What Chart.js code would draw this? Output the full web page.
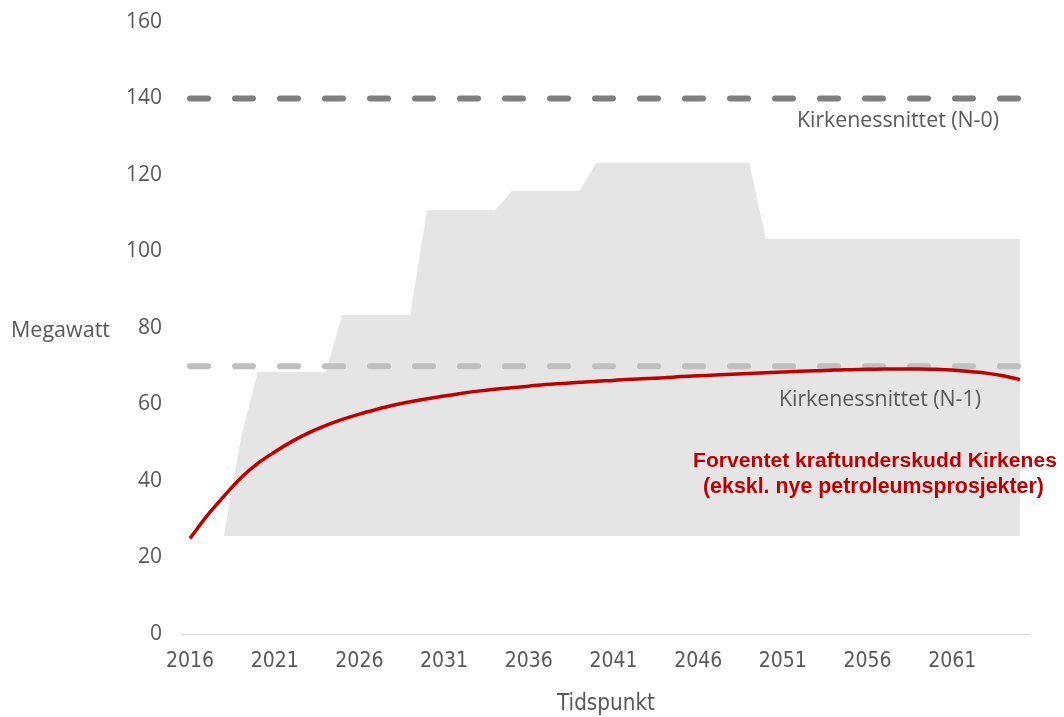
<!DOCTYPE html>
<html>
<head>
<meta charset="utf-8">
<script src="https://cdn.jsdelivr.net/npm/chart.js@4.4.1/dist/chart.umd.min.js"></script>
<style>
  html, body { margin: 0; padding: 0; background: #ffffff; }
  #wrap { width: 1064px; height: 717px; position: relative; }
</style>
</head>
<body>
<div id="wrap"><canvas id="c"></canvas></div>
<script>
// ---------------- DATA ----------------
const years = [
  2016, 2017, 2018, 2019, 2020, 2021, 2022, 2023, 2024, 2025,
  2026, 2027, 2028, 2029, 2030, 2031, 2032, 2033, 2034, 2035,
  2036, 2037, 2038, 2039, 2040, 2041, 2042, 2043, 2044, 2045,
  2046, 2047, 2048, 2049, 2050, 2051, 2052, 2053, 2054, 2055,
  2056, 2057, 2058, 2059, 2060, 2061, 2062, 2063, 2064, 2065
];
const tickYears = [2016, 2021, 2026, 2031, 2036, 2041, 2046, 2051, 2056, 2061];
const yTickValues = [0, 20, 40, 60, 80, 100, 120, 140, 160];

// Upper edge of the grey uncertainty band (MW)
const bandUpper = [
  25.6, 25.6, 25.6, 51.0, 68.5, 68.5, 68.5, 68.5, 68.5, 83.4,
  83.4, 83.4, 83.4, 83.4, 110.8, 110.8, 110.8, 110.8, 110.8, 115.8,
  115.8, 115.8, 115.8, 115.8, 123.2, 123.2, 123.2, 123.2, 123.2, 123.2,
  123.2, 123.2, 123.2, 123.2, 103.3, 103.3, 103.3, 103.3, 103.3, 103.3,
  103.3, 103.3, 103.3, 103.3, 103.3, 103.3, 103.3, 103.3, 103.3, 103.3
];
const bandLower = 25.6;

// Expected power deficit Kirkenes (MW)
const deficit = [
  25.0, 30.9, 36.0, 40.8, 44.6, 47.6, 50.3, 52.6, 54.5, 56.1,
  57.5, 58.7, 59.8, 60.7, 61.5, 62.2, 62.9, 63.5, 64.0, 64.4,
  64.8, 65.2, 65.5, 65.8, 66.1, 66.3, 66.6, 66.8, 67.0, 67.3,
  67.5, 67.7, 67.9, 68.1, 68.3, 68.5, 68.7, 68.8, 69.0, 69.1,
  69.2, 69.3, 69.3, 69.3, 69.2, 69.0, 68.6, 68.2, 67.5, 66.5
];

const limitN0 = 140;
const limitN1 = 70;

const labelN0 = 'Kirkenessnittet (N-0)';
const labelN1 = 'Kirkenessnittet (N-1)';
const deficitLine1 = 'Forventet kraftunderskudd Kirkenes';
const deficitLine2 = '(ekskl. nye petroleumsprosjekter)';
const yTitle = 'Megawatt';
const xTitle = 'Tidspunkt';

// ---------------- DRAWING ----------------
const GREY_TEXT = '#595959';
const RED = '#c00000';

function fitText(ctx, text, x1, x2, baseline, family, weight, color) {
  const probe = 20;
  ctx.font = weight + ' ' + probe + 'px ' + family;
  const w = ctx.measureText(text).width;
  const size = probe * (x2 - x1) / w;
  ctx.font = weight + ' ' + size.toFixed(2) + 'px ' + family;
  ctx.fillStyle = color;
  ctx.textAlign = 'left';
  ctx.textBaseline = 'alphabetic';
  ctx.fillText(text, x1, baseline);
}

const decorations = {
  id: 'decorations',
  beforeDatasetsDraw(chart) {
    const ctx = chart.ctx;
    const y0 = chart.scales.y.getPixelForValue(0);
    ctx.save();
    ctx.strokeStyle = '#d9d9d9';
    ctx.lineWidth = 1;
    ctx.beginPath();
    ctx.moveTo(181, Math.round(y0) + 0.5);
    ctx.lineTo(1030, Math.round(y0) + 0.5);
    ctx.stroke();
    ctx.restore();
  },
  afterDraw(chart) {
    const ctx = chart.ctx;
    ctx.save();
    const sans = '"Open Sans", "Noto Sans", sans-serif';
    const narrow = '"Liberation Sans Narrow", "DejaVu Sans Condensed", sans-serif';
    const bold = '"Liberation Sans", Arial, sans-serif';
    fitText(ctx, yTitle, 11, 110, 337, sans, 'normal', GREY_TEXT);
    fitText(ctx, xTitle, 557, 655, 710, narrow, 'normal', GREY_TEXT);
    fitText(ctx, labelN0, 797, 999, 127, sans, 'normal', GREY_TEXT);
    fitText(ctx, labelN1, 779, 981, 406, sans, 'normal', GREY_TEXT);
    fitText(ctx, deficitLine1, 693, 1057, 467, bold, 'bold', RED);
    fitText(ctx, deficitLine2, 703, 1044, 493, bold, 'bold', RED);
    ctx.restore();
  }
};

const ctx = document.getElementById('c').getContext('2d');
new Chart(ctx, {
  type: 'line',
  data: {
    labels: years.map(String),
    datasets: [
      {
        label: 'band',
        data: bandUpper,
        fill: { value: bandLower },
        backgroundColor: '#e6e5e5',
        borderWidth: 0,
        borderColor: 'rgba(0,0,0,0)',
        pointRadius: 0,
        tension: 0,
        order: 5
      },
      {
        label: labelN1,
        data: years.map(() => limitN1),
        borderColor: '#bfbfbf',
        borderWidth: 6,
        borderDash: [18, 27],
        borderCapStyle: 'round',
        pointRadius: 0,
        fill: false,
        order: 3
      },
      {
        label: labelN0,
        data: years.map(() => limitN0),
        borderColor: '#7f7f7f',
        borderWidth: 6,
        borderDash: [18, 27],
        borderCapStyle: 'round',
        pointRadius: 0,
        fill: false,
        order: 2
      },
      {
        label: deficitLine1,
        data: deficit,
        borderColor: RED,
        borderWidth: 3.5,
        pointRadius: 0,
        cubicInterpolationMode: 'monotone',
        fill: false,
        order: 1
      }
    ]
  },
  options: {
    responsive: true,
    maintainAspectRatio: false,
    animation: false,
    layout: { padding: { top: 22, right: 44, bottom: 0, left: 0 } },
    plugins: {
      legend: { display: false },
      tooltip: { enabled: false },
      title: { display: false }
    },
    scales: {
      x: {
        type: 'category',
        offset: false,
        grid: { display: false, drawTicks: false },
        border: { display: false },
        ticks: {
          autoSkip: false,
          maxRotation: 0,
          minRotation: 0,
          padding: 15,
          color: GREY_TEXT,
          font: { family: '"Liberation Sans Narrow", "DejaVu Sans Condensed", sans-serif', size: 21 },
          callback: (v, i) => tickYears.includes(years[i]) ? String(years[i]) : ''
        },
        afterFit: (s) => { s.height = 83; s.paddingLeft = 0; s.paddingRight = 0; }
      },
      y: {
        min: 0,
        max: 160,
        afterBuildTicks: (s) => { s.ticks = yTickValues.map(v => ({ value: v })); },
        grid: { display: false, drawTicks: false },
        border: { display: false },
        ticks: {
          padding: 28,
          color: GREY_TEXT,
          font: { family: '"Open Sans", "Noto Sans", sans-serif', size: 21 }
        },
        afterFit: (s) => { s.width = 190; s.paddingTop = 0; s.paddingBottom = 0; }
      }
    }
  },
  plugins: [decorations]
});
</script>
</body>
</html>
